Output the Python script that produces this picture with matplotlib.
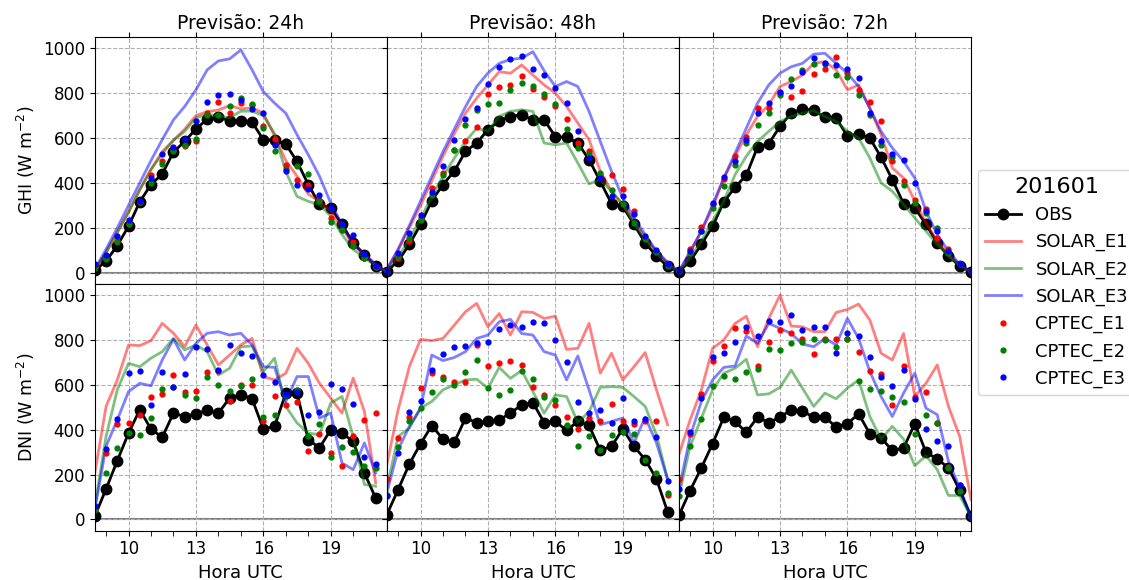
import numpy as np
from matplotlib import pyplot as plt
from matplotlib.ticker import MultipleLocator

nan = np.nan

# hours UTC (every 30 min)
hours = np.arange(8.5, 21.6, 0.5)
leads = ['24h', '48h', '72h']
month = '201601'

# GHI, one list per forecast lead
ghi_obs = [
    [10, 52, 121, 207, 316, 393, 440, 538, 585, 641, 684, 692, 678, 674, 671, 593, 590, 573, 496, 393, 304, 289, 215, 133, 81, 28, 4],
    [7, 52, 126, 215, 321, 393, 452, 541, 578, 637, 677, 696, 704, 681, 681, 607, 603, 578, 504, 407, 308, 296, 215, 133, 74, 28, 4],
    [4, 52, 126, 207, 316, 381, 434, 560, 575, 652, 711, 730, 724, 692, 689, 609, 619, 600, 514, 415, 308, 289, 215, 133, 74, 30, 4],
]
ghi_solar_e1 = [
    [10, 90, 180, 270, 370, 460, 540, 590, 640, 700, 718, 725, 745, 730, 735, 711, 610, 500, 430, 350, 318, 274, 200, 126, 81, 37, 4],
    [15, 100, 200, 300, 410, 520, 620, 711, 778, 837, 896, 889, 926, 881, 837, 800, 741, 667, 593, 452, 363, 304, 230, 156, 96, 44, 4],
    [4, 89, 185, 289, 422, 519, 615, 696, 748, 830, 852, 881, 933, 941, 904, 815, 837, 733, 615, 467, 422, 319, 222, 141, 81, 37, 4],
]
ghi_solar_e2 = [
    [10, 90, 180, 270, 370, 460, 530, 590, 630, 690, 705, 700, 690, 720, 720, 700, 620, 450, 340, 318, 304, 252, 170, 104, 67, 30, 4],
    [10, 70, 150, 240, 340, 430, 510, 585, 644, 630, 696, 719, 726, 719, 578, 570, 578, 489, 396, 415, 363, 304, 222, 148, 89, 37, 4],
    [4, 67, 141, 230, 319, 437, 519, 585, 630, 674, 696, 711, 722, 696, 674, 630, 600, 511, 400, 363, 304, 244, 185, 126, 74, 30, 4],
]
ghi_solar_e3 = [
    [15, 105, 200, 300, 400, 500, 593, 681, 741, 815, 904, 944, 953, 993, 904, 807, 756, 711, 615, 526, 430, 311, 215, 126, 84, 37, 4],
    [15, 105, 210, 320, 430, 540, 640, 740, 830, 890, 933, 951, 956, 985, 900, 830, 852, 830, 719, 585, 452, 333, 244, 170, 96, 44, 4],
    [4, 96, 185, 304, 422, 533, 644, 756, 837, 889, 918, 933, 974, 978, 933, 889, 830, 733, 630, 556, 496, 422, 274, 170, 96, 37, 4],
]
ghi_cptec_e1 = [
    [30, 67, 141, 215, 316, 437, 499, 548, 563, 585, 710, 763, 714, 756, 748, 655, 597, 481, 415, 390, 326, 244, 190, 136, 67, 25, 7],
    [5, 67, 141, 244, 378, 444, 548, 585, 650, 797, 829, 837, 877, 819, 782, 745, 686, 578, 541, 437, 437, 375, 274, 156, 96, 37, 7],
    [7, 104, 203, 307, 419, 519, 603, 736, 733, 800, 785, 810, 884, 907, 963, 889, 815, 760, 674, 496, 410, 326, 286, 156, 104, 37, 7],
]
ghi_cptec_e2 = [
    [20, 60, 138, 215, 316, 400, 486, 544, 570, 597, 704, 704, 741, 778, 753, 647, 544, 464, 474, 440, 319, 227, 190, 119, 67, 25, 7],
    [5, 74, 156, 237, 348, 434, 548, 659, 724, 752, 757, 815, 844, 833, 797, 751, 640, 558, 530, 444, 370, 304, 222, 152, 92, 30, 7],
    [7, 89, 188, 289, 385, 480, 578, 659, 714, 793, 864, 904, 930, 930, 881, 874, 793, 701, 570, 514, 390, 311, 267, 197, 89, 37, 7],
]
ghi_cptec_e3 = [
    [37, 81, 163, 237, 318, 422, 530, 561, 596, 677, 760, 793, 797, 770, 730, 711, 567, 452, 393, 372, 348, 289, 215, 166, 84, 31, 7],
    [5, 89, 178, 259, 359, 474, 590, 686, 733, 840, 918, 952, 967, 907, 881, 825, 755, 633, 511, 422, 341, 341, 262, 163, 99, 37, 7],
    [7, 96, 188, 311, 427, 496, 593, 711, 756, 807, 830, 896, 956, 936, 926, 908, 870, 711, 585, 530, 504, 400, 274, 185, 96, 37, 7],
]

# DNI
dni_obs = [
    [15, 136, 262, 385, 489, 403, 366, 474, 459, 471, 486, 474, 541, 556, 538, 403, 415, 563, 563, 356, 319, 400, 385, 348, 207, 96, nan],
    [22, 133, 247, 338, 418, 358, 344, 452, 432, 437, 444, 474, 511, 521, 432, 437, 397, 437, 419, 308, 326, 403, 326, 267, 181, 33, nan],
    [18, 129, 230, 338, 456, 437, 388, 456, 432, 456, 489, 484, 455, 456, 412, 427, 471, 382, 363, 308, 318, 427, 299, 270, 230, 130, 15],
]
dni_solar_e1 = [
    [207, 504, 622, 778, 775, 797, 874, 830, 770, 867, 778, 689, 733, 778, 807, 637, 622, 652, 763, 696, 607, 541, 474, 630, 481, 163, nan],
    [244, 489, 681, 803, 797, 807, 866, 926, 963, 859, 918, 822, 926, 923, 896, 906, 758, 763, 874, 652, 741, 622, 681, 744, 578, 422, nan],
    [289, 444, 578, 763, 800, 874, 906, 770, 896, 1000, 862, 859, 837, 837, 923, 936, 960, 889, 741, 711, 829, 548, 607, 689, 504, 370, 89],
]
dni_solar_e2 = [
    [59, 370, 578, 696, 681, 719, 748, 807, 756, 778, 748, 644, 674, 770, 773, 659, 719, 504, 430, 385, 378, 519, 548, 370, 156, 148, nan],
    [141, 370, 407, 496, 526, 578, 600, 622, 625, 585, 678, 629, 664, 570, 474, 555, 548, 432, 481, 589, 592, 589, 548, 504, 378, 178, nan],
    [104, 326, 452, 578, 652, 674, 714, 555, 560, 589, 666, 585, 504, 563, 538, 585, 622, 459, 358, 415, 358, 240, 284, 222, 107, 107, 12],
]
dni_solar_e3 = [
    [44, 326, 444, 570, 607, 596, 711, 804, 711, 785, 830, 837, 822, 830, 778, 681, 678, 526, 637, 637, 452, 474, 252, 222, 341, 207, nan],
    [118, 311, 415, 496, 733, 708, 722, 748, 807, 822, 881, 892, 829, 822, 748, 733, 622, 729, 578, 422, 437, 452, 341, 456, 341, 178, nan],
    [133, 370, 526, 622, 678, 684, 818, 785, 874, 852, 829, 782, 770, 807, 778, 896, 807, 659, 548, 459, 563, 652, 496, 467, 259, 141, 12],
]
dni_cptec_e1 = [
    [47, 296, 427, 430, 467, 545, 560, 644, 566, 573, 658, 664, 530, 598, 598, 437, 552, 511, 523, 304, 381, 296, 237, 373, 444, 474, nan],
    [181, 363, 459, 585, 652, 637, 615, 615, 778, 686, 696, 706, 689, 589, 555, 511, 459, 403, 452, 437, 515, 437, 427, 441, 441, 107, nan],
    [181, 382, 560, 708, 773, 855, 841, 684, 789, 844, 832, 803, 736, 803, 803, 803, 748, 662, 647, 511, 684, 545, 566, 430, 234, 153, 12],
]
dni_cptec_e2 = [
    [44, 207, 318, 385, 378, 452, 582, 592, 555, 541, 637, 598, 573, 595, 625, 459, 465, 555, 578, 370, 427, 278, 323, 299, 237, 230, nan],
    [110, 323, 437, 498, 569, 625, 598, 658, 711, 584, 553, 578, 662, 625, 548, 533, 422, 326, 370, 308, 375, 392, 382, 267, 207, 116, nan],
    [104, 329, 449, 597, 641, 625, 658, 669, 760, 757, 788, 790, 803, 800, 770, 803, 618, 582, 573, 548, 524, 382, 467, 432, 230, 129, 12],
]
dni_cptec_e3 = [
    [59, 314, 450, 652, 664, 511, 658, 589, 647, 770, 760, 666, 778, 743, 730, 644, 615, 558, 570, 465, 481, 603, 582, 515, 278, 249, nan],
    [104, 296, 478, 526, 666, 738, 770, 773, 788, 790, 847, 867, 856, 881, 874, 800, 703, 523, 474, 489, 430, 541, 441, 447, 367, 170, nan],
    [136, 388, 541, 723, 741, 789, 856, 819, 886, 881, 912, 844, 856, 856, 743, 832, 819, 723, 637, 597, 666, 536, 403, 352, 326, 153, 12],
]

plt.rcParams['font.size'] = 12

fig, axes = plt.subplots(2, 3, sharex=True, sharey=True, figsize=(11.29, 5.8), dpi=100)
fig.subplots_adjust(left=0.084, right=0.860, top=0.936, bottom=0.085, wspace=0, hspace=0)

rows = [
    ('GHI', ghi_obs, ghi_solar_e1, ghi_solar_e2, ghi_solar_e3, ghi_cptec_e1, ghi_cptec_e2, ghi_cptec_e3),
    ('DNI', dni_obs, dni_solar_e1, dni_solar_e2, dni_solar_e3, dni_cptec_e1, dni_cptec_e2, dni_cptec_e3),
]

for r, (var, obs, s1, s2, s3, c1, c2, c3) in enumerate(rows):
    for c in range(3):
        ax = axes[r, c]
        ax.axhline(0, color='gray', lw=1.5, zorder=1)
        ax.plot(hours, obs[c], 'k-o', lw=2, ms=7.5, label='OBS')
        ax.plot(hours, s1[c], color='r', alpha=0.5, lw=2, label='SOLAR_E1')
        ax.plot(hours, s2[c], color='g', alpha=0.5, lw=2, label='SOLAR_E2')
        ax.plot(hours, s3[c], color='b', alpha=0.5, lw=2, label='SOLAR_E3')
        ax.plot(hours, c1[c], 'r.', ms=7, label='CPTEC_E1')
        ax.plot(hours, c2[c], 'g.', ms=7, label='CPTEC_E2')
        ax.plot(hours, c3[c], 'b.', ms=7, label='CPTEC_E3')
        ax.grid(True, ls='--', color='#b0b0b0', lw=0.8)
        ax.xaxis.set_minor_locator(MultipleLocator(1))
        ax.tick_params(which='major', top=(r == 0))
        ax.tick_params(which='minor', length=3.5, bottom=(r == 1))
        if r == 0:
            ax.set_title('Previsão: ' + leads[c], fontsize=13.5)
        else:
            ax.set_xlabel('Hora UTC', fontsize=13)
        if c == 0:
            ax.set_ylabel(var + ' (W m$^{-2}$)', fontsize=12.5)

axes[0, 0].set_xlim(8.5, 21.5)
axes[0, 0].set_ylim(-50, 1050)
axes[0, 0].set_xticks([10, 13, 16, 19])
axes[0, 0].set_yticks([0, 200, 400, 600, 800, 1000])

handles, labels = axes[0, 0].get_legend_handles_labels()
leg = fig.legend(handles, labels, loc='center left', bbox_to_anchor=(0.858, 0.513),
                 title=month, fontsize=13, title_fontsize=16)

fig.savefig('out.png', dpi=100)
